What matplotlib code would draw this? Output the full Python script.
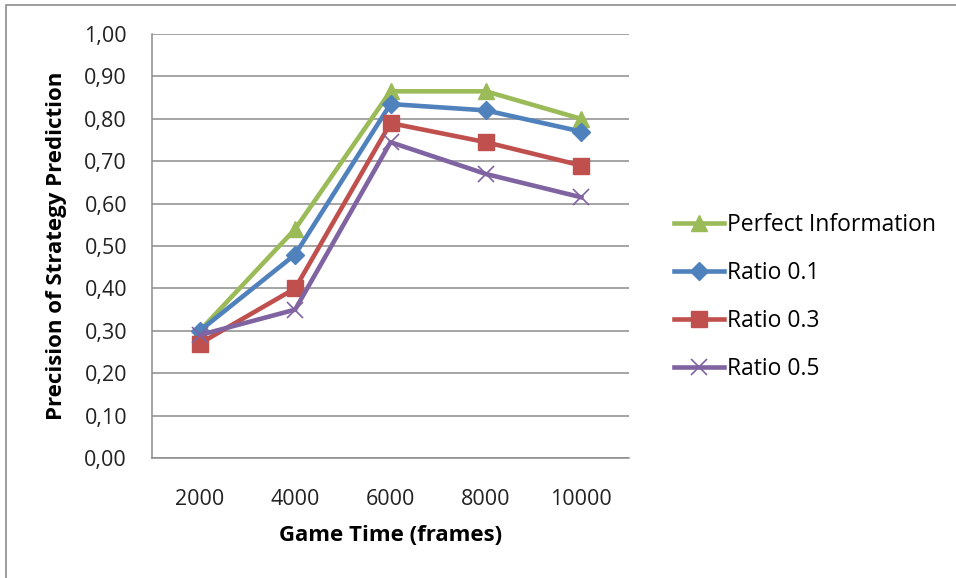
import matplotlib.pyplot as plt
from matplotlib.patches import Rectangle

# Precision of strategy prediction over game time
frames = ["2000", "4000", "6000", "8000", "10000"]
perfect_info = [0.30, 0.54, 0.865, 0.865, 0.80]
ratio_01 = [0.30, 0.48, 0.835, 0.82, 0.77]
ratio_03 = [0.27, 0.40, 0.79, 0.745, 0.69]
ratio_05 = [0.29, 0.35, 0.745, 0.67, 0.615]

plt.rcParams['font.family'] = ['Open Sans', 'DejaVu Sans']

fig = plt.figure(figsize=(9.56, 5.78), dpi=100)
ax = fig.add_axes([0.159, 0.2076, 0.499, 0.7334])

x = range(len(frames))
ax.plot(x, perfect_info, color='#9BBB59', lw=3.3, marker='^', ms=11, label='Perfect Information')
ax.plot(x, ratio_01, color='#4F81BD', lw=3.3, marker='D', ms=9, label='Ratio 0.1')
ax.plot(x, ratio_03, color='#C0504D', lw=3.3, marker='s', ms=11, label='Ratio 0.3')
ax.plot(x, ratio_05, color='#8064A2', lw=3.3, marker='x', ms=11, mew=1.2, label='Ratio 0.5')

ax.set_xlim(-0.5, len(frames) - 0.5)
ax.set_ylim(0, 1.0)
ax.set_xticks(list(x))
ax.set_xticklabels(frames)
yt = [i / 10 for i in range(11)]
ax.set_yticks(yt)
ax.set_yticklabels([f"{v:.2f}".replace('.', ',') for v in yt])
ax.tick_params(length=0, labelsize=15.5, colors='#222222', pad=18)
ax.tick_params(axis='x', pad=22)

ax.grid(axis='y', color='#8C8C8C', lw=1.1)
ax.set_axisbelow(True)
for side in ['top', 'right']:
    ax.spines[side].set_visible(False)
for side in ['left', 'bottom']:
    ax.spines[side].set_color('#8C8C8C')
    ax.spines[side].set_linewidth(1.1)

ax.set_xlabel('Game Time (frames)', fontsize=16, fontweight='bold')
ax.xaxis.set_label_coords(0.5, -0.158)
ax.set_ylabel('Precision of Strategy Prediction', fontsize=16, fontweight='bold')
ax.yaxis.set_label_coords(-0.178, 0.5)

ax.legend(loc='upper left', bbox_to_anchor=(1.05, 0.627), frameon=False, fontsize=16.5,
          handlelength=2.2, handletextpad=0.15, labelspacing=1.05)

# outer chart frame
fig.patches.append(Rectangle((6 / 956, -0.1), 1.2, 1 - 5 / 578 + 0.1, transform=fig.transFigure,
                             fill=False, edgecolor='#8C8C8C', lw=1.2))

fig.savefig('out.png', dpi=100)
